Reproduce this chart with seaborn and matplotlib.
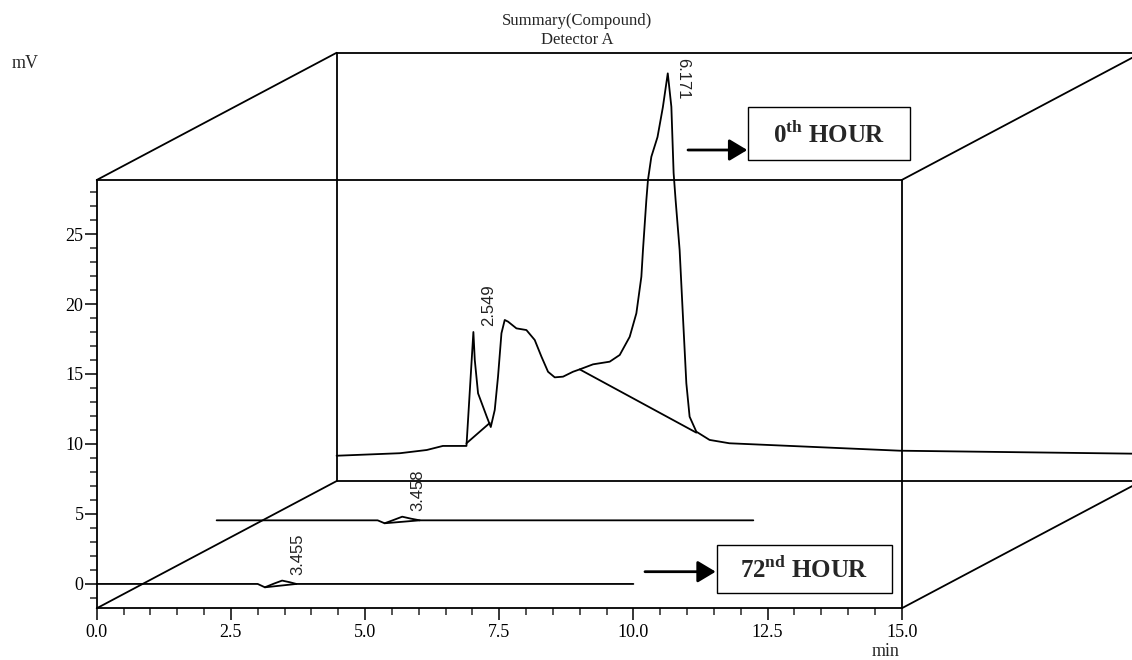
import numpy as np
import matplotlib
matplotlib.use("Agg")
import matplotlib.pyplot as plt
from matplotlib.patches import Rectangle, FancyArrowPatch
import seaborn as sns

# ---------------------------------------------------------------------------
# Data (retention time in min, signal in mV)
# ---------------------------------------------------------------------------

# 0th hour trace (back plane)
t_0h = [0.0, 1.18, 1.68, 1.98, 2.42, 2.549, 2.575, 2.636, 2.80, 2.873, 2.947,
        3.008, 3.072, 3.133, 3.195, 3.351, 3.537, 3.692, 3.817, 3.94, 4.065,
        4.22, 4.405, 4.53, 4.778, 5.089, 5.276, 5.462, 5.586, 5.679, 5.709,
        5.772, 5.802, 5.865, 5.98, 6.08, 6.171, 6.238, 6.28, 6.317, 6.392,
        6.454, 6.517, 6.578, 6.703, 6.95, 7.32, 10.49, 15.0]
s_0h = [0.07, 0.25, 0.48, 0.77, 0.77, 8.91, 6.91, 4.53, 2.84, 2.12, 3.34,
        5.72, 8.82, 9.77, 9.65, 9.17, 9.05, 8.34, 7.15, 6.07, 5.67,
        5.72, 6.07, 6.24, 6.6, 6.79, 7.27, 8.57, 10.25, 12.86, 14.77,
        18.34, 19.77, 21.43, 22.84, 24.98, 27.39, 25.0, 20.27, 18.34, 14.77,
        10.0, 5.25, 2.86, 1.79, 1.2, 0.96, 0.43, 0.21]
# integration baselines drawn under the 0th hour peaks
base_0h = [([2.42, 2.854], [0.96, 2.41]), ([4.53, 6.703], [6.24, 1.72])]

# intermediate trace (middle plane)
t_mid = [0.0, 3.0, 3.13, 3.3, 3.458, 3.62, 3.785, 10.0]
s_mid = [0.0, 0.0, -0.21, 0.03, 0.26, 0.12, 0.0, 0.0]
base_mid = ([3.13, 3.785], [-0.21, 0.0])

# 72nd hour trace (front plane)
t_72h = [0.0, 3.0, 3.134, 3.3, 3.455, 3.6, 3.72, 10.0]
s_72h = [0.0, 0.0, -0.24, 0.02, 0.24, 0.12, 0.0, 0.0]
base_72h = ([3.134, 3.72], [-0.24, 0.0])

peak_labels_0h = ["2.549", "6.171"]
peak_labels_mid = ["3.458"]
peak_labels_72h = ["3.455"]

xticks = [0.0, 2.5, 5.0, 7.5, 10.0, 12.5, 15.0]
yticks = [0, 5, 10, 15, 20, 25]

# oblique "3D" depth of the box (min, mV)
DEPTH_X, DEPTH_Y = 4.47, 9.09
XLIM = (0.0, 15.0)
YLIM = (-1.74, 28.86)

# ---------------------------------------------------------------------------
# Styling
# ---------------------------------------------------------------------------
sns.set_style("ticks")
plt.rcParams["font.family"] = ["Liberation Serif", "DejaVu Serif"]
plt.rcParams["mathtext.fontset"] = "custom"
plt.rcParams["mathtext.rm"] = "Liberation Serif"
plt.rcParams["mathtext.bf"] = "Liberation Serif:bold"

W, H = 1132, 660
fig = plt.figure(figsize=(W / 100, H / 100), dpi=100)
ax = fig.add_axes([96.7 / W, (H - 608.3) / H, 805 / W, 428.3 / H])
ax.set_xlim(*XLIM)
ax.set_ylim(*YLIM)

LW = 1.3
line_kw = dict(color="black", linewidth=LW, clip_on=False)


def px(x, y):
    """pixel position (from top-left) -> figure fraction"""
    return x / W, 1 - y / H


def draw_trace(t, s, dx, dy, baselines, labels):
    t = np.asarray(t)
    s = np.asarray(s)
    sns.lineplot(x=t + dx, y=s + dy, ax=ax, sort=False, estimator=None, **line_kw)
    for bt, bs in baselines:
        ax.plot(np.asarray(bt) + dx, np.asarray(bs) + dy, **line_kw)
    for lab in labels:
        rt = float(lab)
        peak = np.interp(rt, t, s) + dy
        if rt > 5:
            ax.annotate(lab, xy=(rt + dx, peak), xytext=(10.7, 11),
                        textcoords="offset points", rotation=270,
                        ha="center", va="top", fontsize=12,
                        family="Liberation Sans", color="#222222",
                        annotation_clip=False)
        else:
            ax.annotate(lab, xy=(rt + dx, peak), xytext=(11, 4),
                        textcoords="offset points", rotation=90,
                        ha="center", va="bottom", fontsize=12,
                        family="Liberation Sans", color="#222222",
                        annotation_clip=False)


# box edges behind the front face
x0, x1 = XLIM
y0, y1 = YLIM
bx0, bx1 = x0 + DEPTH_X, x1 + DEPTH_X
by0, by1 = y0 + DEPTH_Y, y1 + DEPTH_Y
ax.plot([bx0, bx1 + 1], [by1, by1], **line_kw)          # back top
ax.plot([bx0, bx1 + 1], [by0, by0], **line_kw)          # back bottom
ax.plot([bx0, bx0], [by0, by1], **line_kw)              # back left
for cx, cy in [(x0, y0), (x0, y1), (x1, y0), (x1, y1)]:
    ax.plot([cx, cx + DEPTH_X], [cy, cy + DEPTH_Y], **line_kw)

# traces
draw_trace(t_0h, s_0h, DEPTH_X, DEPTH_Y, base_0h, peak_labels_0h)
draw_trace(t_mid, s_mid, DEPTH_X / 2, DEPTH_Y / 2, [base_mid], peak_labels_mid)
draw_trace(t_72h, s_72h, 0.0, 0.0, [base_72h], peak_labels_72h)

# axes / ticks
for sp in ax.spines.values():
    sp.set_visible(True)
    sp.set_linewidth(LW)
    sp.set_color("black")
ax.set_xticks(xticks)
ax.set_xticklabels([f"{v:.1f}" for v in xticks])
ax.set_xticks(np.arange(0, 15.01, 0.5), minor=True)
ax.set_yticks(yticks)
ax.set_yticks(np.arange(-1, 29, 1), minor=True)
ax.tick_params(which="major", length=8.5, width=1.1, labelsize=13, colors="black")
ax.tick_params(axis="x", which="major", pad=3)
ax.tick_params(axis="y", which="major", pad=1)
ax.tick_params(which="minor", length=5, width=1.1)
ax.set_xlabel("")
ax.set_ylabel("")
ax.set_facecolor("white")

# titles and unit labels
fig.text(*px(577, 21), "Summary(Compound)", ha="center", va="center", fontsize=12)
fig.text(*px(577, 40), "Detector A", ha="center", va="center", fontsize=12)
fig.text(*px(25, 64), "mV", ha="center", va="center", fontsize=13)
fig.text(*px(886, 651), "min", ha="center", va="center", fontsize=13)

# hour boxes with arrows
boxes = [
    ("0$^{\\mathbf{th}}$ HOUR", (748.3, 106.7, 910, 160), (688, 150)),
    ("72$^{\\mathbf{nd}}$ HOUR", (716.7, 545, 891.7, 593.3), (645, 571.7)),
]
for text, (l, t, r, b), (ax0, ay) in boxes:
    fig.add_artist(Rectangle(px(l, b), (r - l) / W, (b - t) / H,
                             transform=fig.transFigure, fill=False,
                             edgecolor="black", linewidth=1.0))
    fig.text(*px((l + r) / 2, (t + b) / 2 + 1), text, ha="center", va="center",
             fontsize=18, fontweight="bold")
    fig.add_artist(FancyArrowPatch(px(ax0, ay), px(l - 1, ay),
                                   transform=fig.transFigure,
                                   arrowstyle="-|>,head_length=0.55,head_width=0.33",
                                   mutation_scale=20, linewidth=2, color="black",
                                   shrinkA=0, shrinkB=0))

fig.savefig("out.png", dpi=100, facecolor="white")
